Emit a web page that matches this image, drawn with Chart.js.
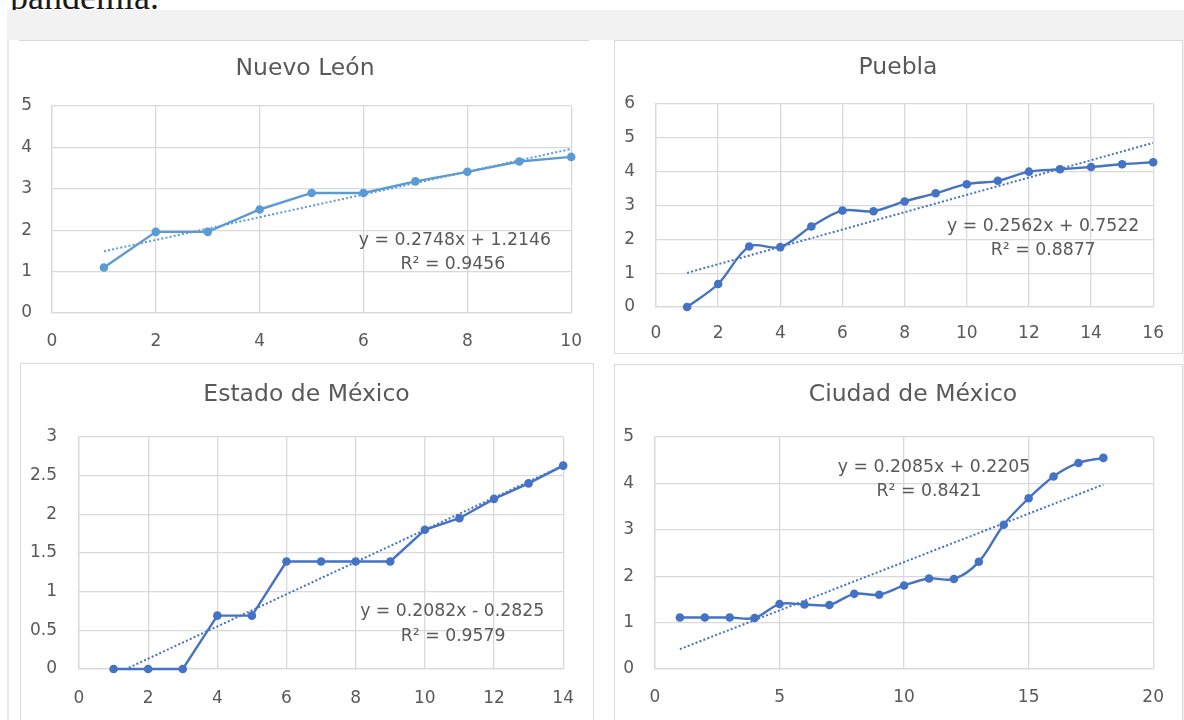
<!DOCTYPE html>
<html>
<head>
<meta charset="utf-8">
<script src="https://cdn.jsdelivr.net/npm/chart.js@4.4.1/dist/chart.umd.min.js"></script>
<style>
  html, body { margin: 0; padding: 0; background: #fff; width: 1184px; height: 720px; overflow: hidden; }
  body { position: relative; }
  .lead { position: absolute; left: 10px; top: -21px; font: 36px "Liberation Serif", "DejaVu Serif", serif; line-height: 36px; color: #1a1a1a; white-space: nowrap; }
  .band { position: absolute; left: 7px; top: 10px; width: 1177px; height: 30px; background: #f2f2f2; }
  .edge { position: absolute; left: 7px; top: 40px; width: 2px; height: 680px; background: #e8e8e8; }
  .rim { position: absolute; left: 1183px; top: 40px; width: 1px; height: 680px; background: #f2f2f2; }
  .panel { position: absolute; background: #fff; box-sizing: border-box; border: 1px solid #d9d9d9; }
  .panel.open { border: none; border-top: 1px solid #d9d9d9; }
  canvas { position: absolute; display: block; }
</style>
</head>
<body>
<div class="lead">pandemia.</div>
<div class="band"></div>
<div class="edge"></div>
<div class="rim"></div>

<div class="panel open" style="left:19px;top:40px;width:570px;height:316px;"></div>
<div class="panel" style="left:614px;top:40px;width:569px;height:314px;"></div>
<div class="panel" style="left:20px;top:363px;width:574px;height:370px;"></div>
<div class="panel" style="left:614px;top:364px;width:569px;height:370px;"></div>

<canvas id="nuevoLeon" style="left:19px;top:41px;" height="314"></canvas>
<canvas id="puebla" style="left:615px;top:41px;" height="312"></canvas>
<canvas id="edomex" style="left:21px;top:364px;" height="356"></canvas>
<canvas id="cdmx" style="left:615px;top:365px;" height="355"></canvas>

<script>
// ---- Series ----
const nlDays = [1, 2, 3, 4, 5, 6, 7, 8, 9, 10];
const nlValues = [1.10, 1.96, 1.96, 2.50, 2.90, 2.90, 3.18, 3.41, 3.66, 3.77];
const nlTrend = { slope: 0.2748, intercept: 1.2146, r2: '0.9456' };

const puDays = [1, 2, 3, 4, 5, 6, 7, 8, 9, 10, 11, 12, 13, 14, 15, 16];
const puValues = [0.00, 0.68, 1.79, 1.77, 2.38, 2.85, 2.83, 3.12, 3.36, 3.63, 3.73, 4.00, 4.07, 4.14, 4.22, 4.28];
const puTrend = { slope: 0.2562, intercept: 0.7522, r2: '0.8877' };

const emDays = [1, 2, 3, 4, 5, 6, 7, 8, 9, 10, 11, 12, 13, 14];
const emValues = [0, 0, 0, 0.69, 0.69, 1.39, 1.39, 1.39, 1.39, 1.80, 1.95, 2.20, 2.40, 2.63];
const emTrend = { slope: 0.2082, intercept: -0.2825, r2: '0.9579' };

const cdDays = [1, 2, 3, 4, 5, 6, 7, 8, 9, 10, 11, 12, 13, 14, 15, 16, 17, 18];
const cdValues = [1.11, 1.11, 1.11, 1.10, 1.40, 1.39, 1.38, 1.62, 1.60, 1.80, 1.95, 1.94, 2.31, 3.11, 3.68, 4.15, 4.44, 4.55];
const cdTrend = { slope: 0.2085, intercept: 0.2205, r2: '0.8421' };

// ---- Axis ranges ----
const nlAxis = { xMax: 10, xStep: 2, yMax: 5, yStep: 1 };
const puAxis = { xMax: 16, xStep: 2, yMax: 6, yStep: 1 };
const emAxis = { xMax: 14, xStep: 2, yMax: 3, yStep: 0.5 };
const cdAxis = { xMax: 20, xStep: 5, yMax: 5, yStep: 1 };

const TEXT = '#595959';
const GRID = '#d9d9d9';
const FONT = '"DejaVu Sans", "Open Sans", sans-serif';
const TICK_SIZE = 17;
const TITLE_SIZE = 23.5;

function fmt(n) { return n.toFixed(4); }
function equation(t) {
  const sign = t.intercept < 0 ? ' - ' : ' + ';
  return ['y = ' + fmt(t.slope) + 'x' + sign + fmt(Math.abs(t.intercept)), 'R² = ' + t.r2];
}
function tickText(v) { return String(+Number(v).toFixed(2)); }

// Panel heading, centred on a fixed x inside the canvas.
const panelTitle = {
  id: 'panelTitle',
  afterDraw(chart, args, opts) {
    if (!opts || !opts.text) return;
    const { ctx } = chart;
    ctx.save();
    ctx.font = TITLE_SIZE + 'px ' + FONT;
    ctx.fillStyle = TEXT;
    ctx.textAlign = 'center';
    ctx.textBaseline = 'middle';
    ctx.fillText(opts.text, opts.x, opts.y);
    ctx.restore();
  }
};

// Regression equation, centred on a point given in data units.
const equationLabel = {
  id: 'equationLabel',
  afterDatasetsDraw(chart, args, opts) {
    if (!opts || !opts.lines) return;
    const { ctx, scales } = chart;
    const cx = scales.x.getPixelForValue(opts.at.x);
    const cy = scales.y.getPixelForValue(opts.at.y);
    ctx.save();
    ctx.font = '17.3px ' + FONT;
    ctx.fillStyle = TEXT;
    ctx.textAlign = 'center';
    ctx.textBaseline = 'middle';
    opts.lines.forEach((line, i) => ctx.fillText(line, cx + (opts.shift ? opts.shift[i] : 0), cy + i * 24.5));
    ctx.restore();
  }
};

const measure = document.createElement('canvas').getContext('2d');

// geo: plot box (left/right/top/bottom) and title centre, in canvas pixels.
function build(id, title, days, values, trend, axis, color, smooth, geo, eqAt, eqShift) {
  const canvas = document.getElementById(id);
  const ch = canvas.height;

  // The last x label plus its padding sets the room Chart.js keeps on the right.
  measure.font = TICK_SIZE + 'px ' + FONT;
  const overflowR = measure.measureText(tickText(axis.xMax)).width / 2 + geo.xPad;
  canvas.width = Math.round(geo.right + overflowR);

  const x0 = days[0], x1 = days[days.length - 1];
  const trendPts = [
    { x: x0, y: trend.slope * x0 + trend.intercept },
    { x: x1, y: trend.slope * x1 + trend.intercept }
  ];
  return new Chart(canvas, {
    type: 'scatter',
    data: {
      datasets: [
        {
          label: 'trend',
          data: trendPts,
          showLine: true,
          borderColor: color,
          borderWidth: 2,
          borderDash: [2, 2.2],
          pointRadius: 0,
          order: 0
        },
        {
          label: title,
          data: days.map((d, i) => ({ x: d, y: values[i] })),
          showLine: true,
          clip: false,
          borderColor: color,
          backgroundColor: color,
          borderWidth: 2.4,
          pointRadius: 4.3,
          pointBorderWidth: 0,
          tension: smooth ? 0.33 : 0,
          order: 1
        }
      ]
    },
    options: {
      responsive: false,
      animation: false,
      events: [],
      layout: { padding: { left: 0, top: geo.top, bottom: 0, right: 0 } },
      plugins: {
        legend: { display: false },
        tooltip: { enabled: false },
        title: { display: false },
        panelTitle: { text: title, x: geo.titleX, y: geo.titleMid },
        equationLabel: { lines: equation(trend), at: eqAt, shift: eqShift }
      },
      scales: {
        x: {
          type: 'linear',
          min: 0, max: axis.xMax,
          ticks: { stepSize: axis.xStep, color: TEXT, font: { family: FONT, size: TICK_SIZE }, padding: geo.xPad, maxRotation: 0, callback: tickText },
          grid: { color: GRID, lineWidth: 1.3, drawTicks: false },
          border: { color: GRID, width: 1.3 },
          afterFit: s => { s.height = ch - geo.bottom; }
        },
        y: {
          type: 'linear',
          min: 0, max: axis.yMax,
          ticks: { stepSize: axis.yStep, color: TEXT, font: { family: FONT, size: TICK_SIZE }, padding: geo.yPad, callback: tickText },
          grid: { color: GRID, lineWidth: 1.3, drawTicks: false },
          border: { color: GRID, width: 1.3 },
          afterFit: s => { s.width = geo.left; }
        }
      }
    },
    plugins: [panelTitle, equationLabel]
  });
}

build('nuevoLeon', 'Nuevo León', nlDays, nlValues, nlTrend, nlAxis, '#5B9BD5', false,
  { left: 33, right: 552, top: 65, bottom: 272, titleX: 286, titleMid: 28, xPad: 18, yPad: 20 },
  { x: 7.76, y: 1.76 }, [0, -2]);

build('puebla', 'Puebla', puDays, puValues, puTrend, puAxis, '#4472C4', true,
  { left: 41, right: 538, top: 63, bottom: 266, titleX: 283, titleMid: 27, xPad: 16, yPad: 21 },
  { x: 12.46, y: 2.39 }, [0, 0]);

build('edomex', 'Estado de México', emDays, emValues, emTrend, emAxis, '#4472C4', false,
  { left: 58, right: 542, top: 73, bottom: 305, titleX: 285.5, titleMid: 31, xPad: 19, yPad: 22 },
  { x: 10.79, y: 0.74 }, [0, 1]);

build('cdmx', 'Ciudad de México', cdDays, cdValues, cdTrend, cdAxis, '#4472C4', true,
  { left: 40, right: 538, top: 72, bottom: 304, titleX: 298, titleMid: 30, xPad: 18, yPad: 21 },
  { x: 11.2, y: 4.35 }, [0, -5]);
</script>
</body>
</html>
